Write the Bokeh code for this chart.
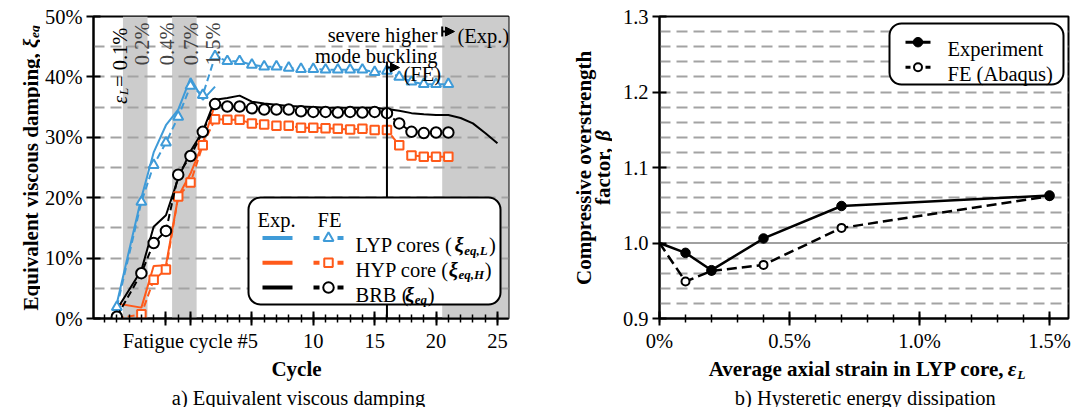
import numpy as np
from bokeh.plotting import figure
from bokeh.layouts import row, column
from bokeh.models import Range1d, FixedTicker, BoxAnnotation, Label, Arrow, NormalHead, TeeHead
from bokeh.core.properties import value
from bokeh.embed import file_html
from bokeh.resources import INLINE

# ---------------- data: a) equivalent viscous damping ----------------
fe_cycle = [-6, -4, -3, -2, -1, 0, 1, 2, 3, 4, 5, 6, 7, 8, 9, 10, 11, 12, 13, 14, 15, 16, 17, 18, 19, 20, 21]
lyp_fe = [1.9, 19.3, 25.4, 29.1, 33.4, 38.5, 37.0, 43.4, 42.6, 42.6, 42.0, 41.7, 41.7, 41.5, 41.3, 41.3,
          41.2, 41.2, 41.2, 41.2, 40.8, 41.0, 40.0, 39.2, 38.8, 38.8, 38.8]
hyp_fe = [0.0, 0.7, 6.4, 8.1, 20.2, 22.5, 28.7, 33.0, 32.9, 32.9, 32.3, 32.1, 31.9, 31.9, 31.6, 31.6,
          31.5, 31.4, 31.3, 31.4, 31.2, 31.2, 28.7, 27.0, 26.8, 26.8, 26.8]
brb_fe = [0.3, 7.5, 12.5, 14.5, 23.8, 26.9, 30.9, 35.5, 35.1, 35.1, 34.8, 34.6, 34.6, 34.6, 34.3, 34.2,
          34.2, 34.1, 34.2, 34.1, 34.2, 34.0, 32.3, 30.9, 30.7, 30.8, 30.8]
core_exp_cycle = [-6, -4, -3, -2, -1, 0, 1, 2]
lyp_exp = [2.5, 20.0, 27.5, 32.0, 34.6, 39.8, 36.2, 38.4]
hyp_exp = [2.5, 1.8, 8.7, 8.8, 20.2, 24.0, 29.0, 35.5]
brb_exp_cycle = [-6, -4, -3, -2, -1, 0, 1, 2, 3, 4, 5, 6, 7, 8, 9, 10, 11, 12, 13, 14, 15, 16, 17, 18, 19,
                 20, 21, 22, 23, 24, 25]
brb_exp = [1.5, 8.0, 15.2, 17.1, 23.2, 27.7, 31.0, 36.2, 36.5, 36.9, 35.9, 35.6, 35.4, 35.2, 35.1, 35.0,
           34.9, 34.9, 34.9, 34.9, 34.9, 34.7, 34.4, 34.0, 33.8, 33.7, 33.7, 33.2, 32.3, 30.7, 29.0]
strain_bands = [(-5.5, -3.5), (-1.5, 0.5), (20.5, 26.0)]
band_labels = ["0.2%", "0.4%", "0.7%", "1.5%"]
band_label_x = [-4.5, -2.5, -0.5, 1.3]
y_ticks_a = [0, 10, 20, 30, 40, 50]
x_ticks_a = [-2, 0, 5, 10, 15, 20, 25]
x_tick_labels_a = ["", "", "Fatigue cycle #5", "10", "15", "20", "25"]
fe_buckling_cycle = 16

# ---------------- data: b) compressive overstrength ----------------
strain = [0.0, 0.1, 0.2, 0.4, 0.7, 1.5]
beta_exp = [1.0, 0.987, 0.964, 1.006, 1.049, 1.063]
beta_fe = [1.0, 0.949, 0.963, 0.971, 1.020, 1.062]
y_ticks_b = [0.9, 1.0, 1.1, 1.2, 1.3]
x_ticks_b = [0.0, 0.5, 1.0, 1.5]
x_tick_labels_b = ["0%", "0.5%", "1.0%", "1.5%"]

FONT = "Liberation Serif"
BLUE = "#3f9bd8"
ORANGE = "#ff5a1a"
GRID = "#a3a3a3"
BAND = "#cccccc"
TS = 20.5
NBSP = "\u00a0"

W_REG = {' ': 250, '!': 333, '#': 500, '%': 833, '(': 333, ')': 333, ',': 250, '-': 333, '.': 250, '=': 564,
         'A': 722, 'B': 667, 'C': 667, 'D': 722, 'E': 611, 'F': 556, 'G': 722, 'H': 722, 'I': 333, 'L': 611,
         'M': 889, 'P': 556, 'Y': 722, 'a': 444, 'b': 500, 'c': 444, 'd': 500, 'e': 444, 'f': 333, 'g': 500,
         'h': 500, 'i': 278, 'k': 500, 'l': 278, 'm': 778, 'n': 500, 'o': 500, 'p': 500, 'q': 500, 'r': 333,
         's': 389, 't': 278, 'u': 500, 'v': 500, 'w': 722, 'x': 500, 'y': 500, 'z': 444,
         'ξ': 440, 'ε': 440, 'β': 500}
W_BOLD = {' ': 250, '(': 333, ')': 333, ',': 250, '.': 250, 'A': 722, 'B': 667, 'C': 722, 'E': 667, 'H': 778,
          'L': 667, 'P': 611, 'Y': 722, 'a': 500, 'b': 556, 'c': 444, 'd': 556, 'e': 444, 'f': 333, 'g': 500,
          'h': 556, 'i': 278, 'l': 278, 'm': 833, 'n': 556, 'o': 500, 'p': 556, 'q': 556, 'r': 444, 's': 389,
          't': 333, 'u': 556, 'v': 500, 'x': 500, 'y': 500, 'ξ': 470, 'ε': 450, 'β': 520}


def tw(s, size, style):
    tab = W_BOLD if "bold" in style else W_REG
    return sum(tab.get(c, 500) for c in s) * size / 1000.0


# centre the "5" of "Fatigue cycle #5" under its tick by padding the label on the right
_pad = int(round(tw("Fatigue cycle #", TS, "normal") / (0.25 * TS)))
x_tick_labels_a[2] = x_tick_labels_a[2] + NBSP * _pad


# pixel -> data conversions (reference pixel positions)
def lx(px):
    return -7.9 + (px - 93) * (33.8 / 415.0)


def ly(py):
    return (318 - py) * (50.0 / 302.0)


def rx(px):
    return (px - 659) * (1.573 / 409.0)


def ry(py):
    return 0.9 + (318 - py) * (0.4 / 302.0)


def ident(v):
    return v


def put(p, cx, cy, x_px, y_px, pieces, anchor="center", vertical=False):
    # pieces: (text, size, style, baseline shift, extra advance)
    widths = [tw(pc[0], pc[1], pc[2]) + (pc[4] if len(pc) > 4 else 0) for pc in pieces]
    W = sum(widths)
    start = {"center": -W / 2.0, "left": 0.0, "right": -W}[anchor]
    pos = start
    for pc, w in zip(pieces, widths):
        t, s, st, sh = pc[:4]
        if vertical:
            X, Y, ang = x_px + sh, y_px - pos, 90
        else:
            X, Y, ang = x_px + pos, y_px + sh, 0
        p.add_layout(Label(x=cx(X), y=cy(Y), text=t, angle=ang, angle_units="deg", text_font=FONT,
                           text_font_size=f"{s}px", text_font_style=st, text_align="left",
                           text_baseline="alphabetic", text_color="black"))
        pos += w


def text_panel(w, h, xr, yr, bl, br, bt, bb):
    # frame borders match the neighbouring chart so the layout's frame alignment changes nothing;
    # ranges are given in page pixels so labels are placed by page position
    c = figure(width=w, height=h, x_range=Range1d(*xr), y_range=Range1d(*yr), output_backend="svg",
               toolbar_location=None, x_axis_location=None, y_axis_location=None, title=None,
               min_border_left=bl, min_border_right=br, min_border_top=bt, min_border_bottom=bb)
    c.xgrid.visible = False
    c.ygrid.visible = False
    c.outline_line_color = None
    c.background_fill_color = "white"
    c.border_fill_color = "white"
    return c


def style_axes(p):
    for ax in (p.xaxis[0], p.yaxis[0]):
        ax.axis_line_width = 2
        ax.axis_line_color = "black"
        ax.major_tick_line_width = 2
        ax.major_tick_in = 7
        ax.major_tick_out = 7
        ax.minor_tick_line_width = 1.5
        ax.minor_tick_in = 4
        ax.minor_tick_out = 4
        ax.major_label_text_font = FONT
        ax.major_label_text_font_size = f"{TS}px"
        ax.major_label_text_color = "black"
        ax.major_label_standoff = 4
        ax.axis_label = None
    p.outline_line_color = "black"
    p.outline_line_width = 2
    p.outline_line_alpha = 1
    p.xgrid.visible = False
    p.ygrid.grid_line_color = GRID
    p.ygrid.grid_line_width = 2
    p.ygrid.grid_line_dash = "11 6"
    p.background_fill_color = "white"
    p.border_fill_color = "white"


# ======================= left chart =======================
p1 = figure(width=500, height=360, x_range=Range1d(-7.9, 25.9), y_range=Range1d(0, 50),
            output_backend="svg", toolbar_location=None, title=None, min_border_left=53, min_border_right=32,
            min_border_top=16, min_border_bottom=42)
style_axes(p1)
p1.xaxis.ticker = FixedTicker(ticks=x_ticks_a, minor_ticks=list(range(-7, 26)))
p1.xaxis.major_label_overrides = {t: l for t, l in zip(x_ticks_a, x_tick_labels_a)}
p1.yaxis.ticker = FixedTicker(ticks=y_ticks_a, minor_ticks=[])
p1.yaxis.major_label_overrides = {t: f"{t}%" for t in y_ticks_a}
p1.ygrid.ticker = FixedTicker(ticks=[5, 10, 15, 20, 25, 30, 35, 40, 45])

bands = [BoxAnnotation(left=a, right=b, fill_color=BAND, fill_alpha=1.0, line_alpha=0, level="underlay")
         for a, b in strain_bands]
p1.center = bands + list(p1.center)

# experimental lines
p1.line(core_exp_cycle, lyp_exp, line_color=BLUE, line_width=2)
p1.line(core_exp_cycle, hyp_exp, line_color=ORANGE, line_width=2)
p1.line(brb_exp_cycle, brb_exp, line_color="black", line_width=2)
# FE lines + markers
p1.line(fe_cycle, lyp_fe, line_color=BLUE, line_width=2, line_dash="7 4")
p1.scatter(fe_cycle, lyp_fe, marker="triangle", size=10, fill_color="white", line_color=BLUE, line_width=2)
p1.line(fe_cycle, hyp_fe, line_color=ORANGE, line_width=2, line_dash="7 4")
p1.scatter(fe_cycle, hyp_fe, marker="square", size=8.5, fill_color="white", line_color=ORANGE, line_width=2)
p1.line(fe_cycle, brb_fe, line_color="black", line_width=2, line_dash="7 4")
p1.scatter(fe_cycle, brb_fe, marker="circle", size=10.5, fill_color="white", line_color="black", line_width=2)

# buckling marker line
p1.segment(x0=[fe_buckling_cycle], y0=[0], x1=[fe_buckling_cycle], y1=[ly(61)], line_color="black",
           line_width=2)
p1.add_layout(Arrow(x_start=fe_buckling_cycle, y_start=ly(67), x_end=lx(399), y_end=ly(67), line_width=2,
                    end=NormalHead(size=9, fill_color="black", line_color="black")))
p1.add_layout(Arrow(x_start=strain_bands[2][0], y_start=ly(31), x_end=lx(454), y_end=ly(31), line_width=2,
                    start=TeeHead(size=10, line_width=2),
                    end=NormalHead(size=9, fill_color="black", line_color="black")))
put(p1, lx, ly, 437, 34, [("severe higher", TS, "normal", 0)], anchor="right")
put(p1, lx, ly, 437, 55, [("mode buckling", TS, "normal", 0)], anchor="right")
put(p1, lx, ly, 457, 35, [("(Exp.)", TS, "normal", 0)], anchor="left")
put(p1, lx, ly, 403, 73, [("(FE)", TS, "normal", 0)], anchor="left")

# strain-level labels (rotated)
put(p1, lx, ly, 119, 22, [("ε", TS, "italic", 0), ("L", 13, "italic", 4), (" = 0.1%", TS, "normal", 0)],
    anchor="right", vertical=True)
for bx, bl in zip(band_label_x, band_labels):
    p1.add_layout(Label(x=bx, y=ly(22), x_offset=7, text=bl, angle=90, angle_units="deg", text_font=FONT,
                        text_font_size=f"{TS}px", text_align="right", text_baseline="alphabetic"))

# legend (drawn)
p1.quad(left=[lx(248)], right=[lx(500)], top=[ly(197)], bottom=[ly(304)], fill_color="white",
        line_color="black", line_width=2, border_radius=12)
put(p1, lx, ly, 257, 219, [("Exp.", TS, "normal", 0)], anchor="left")
put(p1, lx, ly, 317, 219, [("FE", TS, "normal", 0)], anchor="left")
leg_rows = [(BLUE, "triangle", 10, "LYP cores (", "eq,L"),
            (ORANGE, "square", 8.5, "HYP core (", "eq,H"),
            ("black", "circle", 10.5, "BRB (", "eq")]
for i, (col, mk, ms, txt, sub) in enumerate(leg_rows):
    yy = 237.5 + 24.8 * i
    p1.line([lx(262), lx(292)], [ly(yy)] * 2, line_color=col, line_width=4)
    p1.line([lx(313), lx(319)], [ly(yy)] * 2, line_color=col, line_width=4)
    p1.line([lx(337), lx(343)], [ly(yy)] * 2, line_color=col, line_width=4)
    p1.scatter([lx(328)], [ly(yy)], marker=mk, size=ms, fill_color="white", line_color=col, line_width=2)
    put(p1, lx, ly, 355, yy + 7, [(txt, TS, "normal", 0), ("ξ", TS, "bold italic", 0),
                                   (sub, 13, "bold italic", 5), (")", TS, "normal", 0)], anchor="left")

# text panels round the left chart (coordinates = page pixels)
ylab1 = text_panel(40, 407, (0, 40), (318, 16), 0, 0, 16, 89)
put(ylab1, ident, ident, 30, 167,
    [("Equivalent viscous damping, ", 21, "bold", 0), ("ξ", 21, "bold italic", 0),
     ("eq", 13.5, "bold italic", 4)], vertical=True)
cap1 = text_panel(500, 47, (93, 508), (407, 368), 53, 32, 0, 0)
put(cap1, ident, ident, 296, 375, [("Cycle", 21, "bold", 0)])
put(cap1, ident, ident, 298, 399, [("a) Equivalent viscous damping", TS, "normal", 0)])

# ======================= right chart =======================
p2 = figure(width=460, height=360, x_range=Range1d(0, 1.573), y_range=Range1d(0.9, 1.3),
            output_backend="svg", toolbar_location=None, title=None, min_border_left=47, min_border_right=4,
            min_border_top=16, min_border_bottom=42)
style_axes(p2)
p2.xaxis.ticker = FixedTicker(ticks=x_ticks_b, minor_ticks=[round(0.1 * i, 2) for i in range(0, 16)])
p2.xaxis.major_label_overrides = {t: l for t, l in zip(x_ticks_b, x_tick_labels_b)}
p2.yaxis.ticker = FixedTicker(ticks=y_ticks_b, minor_ticks=[])
p2.yaxis.major_label_overrides = {t: f"{t:.1f}" for t in y_ticks_b}
p2.ygrid.ticker = FixedTicker(ticks=[round(0.92 + 0.02 * i, 2) for i in range(19)
                                     if abs(0.92 + 0.02 * i - 1.0) > 1e-6])
p2.segment(x0=[0], y0=[1.0], x1=[1.573], y1=[1.0], line_color="#a0a0a0", line_width=2)

p2.line(strain, beta_exp, line_color="black", line_width=2.5)
p2.line(strain, beta_fe, line_color="black", line_width=2.5, line_dash="10 5")
p2.scatter(strain[1:], beta_fe[1:], marker="circle", size=8, fill_color="white", line_color="black", line_width=2)
p2.scatter(strain[1:], beta_exp[1:], marker="circle", size=9.5, fill_color="black", line_color="black")

p2.quad(left=[rx(889)], right=[rx(1063)], top=[ry(23)], bottom=[ry(84)], fill_color="white",
        line_color="black", line_width=2, border_radius=12)
p2.line([rx(905), rx(930)], [ry(41.7)] * 2, line_color="black", line_width=3)
p2.scatter([rx(917.5)], [ry(41.7)], marker="circle", size=9.5, fill_color="black", line_color="black")
p2.line([rx(905), rx(910)], [ry(66.7)] * 2, line_color="black", line_width=3)
p2.line([rx(925), rx(930)], [ry(66.7)] * 2, line_color="black", line_width=3)
p2.scatter([rx(917.5)], [ry(66.7)], marker="circle", size=8, fill_color="white", line_color="black",
           line_width=2)
put(p2, rx, ry, 947, 48.5, [("Experiment", TS, "normal", 0)], anchor="left")
put(p2, rx, ry, 947, 73.5, [("FE (Abaqus)", TS, "normal", 0)], anchor="left")

ylab2 = text_panel(72, 407, (540, 612), (318, 16), 0, 0, 16, 89)
put(ylab2, ident, ident, 583, 167, [("Compressive overstrength", 21, "bold", 0)], vertical=True)
put(ylab2, ident, ident, 602, 167, [("factor, ", 21, "bold", 0), ("β", 21, "bold italic", 0)], vertical=True)
cap2 = text_panel(460, 47, (659, 1068), (407, 368), 47, 4, 0, 0)
put(cap2, ident, ident, 867, 375,
    [("Average axial strain in LYP core, ", 21, "bold", 0, -6), ("ε", 21, "bold italic", 0),
     ("L", 13.5, "bold italic", 5)])
put(cap2, ident, ident, 865, 399, [("b) Hysteretic energy dissipation", TS, "normal", 0)])

layout = row(ylab1, column(p1, cap1, spacing=0), ylab2, column(p2, cap2, spacing=0), spacing=0)
open("out.html", "w").write(file_html(layout, INLINE))
